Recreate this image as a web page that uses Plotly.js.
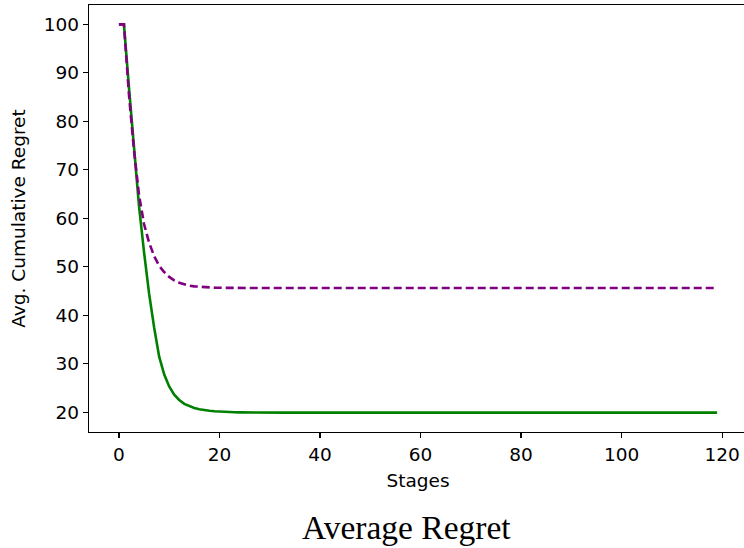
<!DOCTYPE html>
<html>
<head>
<meta charset="utf-8">
<script src="https://cdn.plot.ly/plotly-3.0.1.min.js"></script>
<style>html,body{margin:0;padding:0;background:#fff;overflow:hidden;}#chart{width:748px;height:548px;}</style>
</head>
<body>
<div id="chart"></div>
<script>
// Values (stages 0..119)
var greenHead = [100, 100, 87, 74, 62.5, 53, 44.5, 37.5, 31.5, 27.8, 25.3, 23.6, 22.5, 21.7, 21.2, 20.85, 20.6, 20.4, 20.27, 20.18, 20.1, 20.05, 20.0, 19.97, 19.95, 19.93, 19.92, 19.91, 19.9, 19.9];
var greenTailValue = 19.9;
var purpleHead = [100, 100, 85.5, 74, 64.8, 58.8, 55, 52.2, 50.2, 48.9, 47.9, 47.2, 46.7, 46.35, 46.1, 45.95, 45.85, 45.78, 45.72, 45.68, 45.65, 45.63, 45.62, 45.61, 45.6, 45.6];
var purpleTailValue = 45.6;
var nStages = 120;

var xTickVals = [0, 20, 40, 60, 80, 100, 120];
var yTickVals = [20, 30, 40, 50, 60, 70, 80, 90, 100];

var titleText = 'Average Regret';
var xLabel = 'Stages';
var yLabel = 'Avg. Cumulative Regret';

function fill(head, tail, n) {
  var out = head.slice();
  while (out.length < n) out.push(tail);
  return out;
}
var stages = [];
for (var i = 0; i < nStages; i++) stages.push(i);
var green = fill(greenHead, greenTailValue, nStages);
var purple = fill(purpleHead, purpleTailValue, nStages);

var tickFont = {family: 'DejaVu Sans', size: 18.5, color: '#000'};

var traces = [
  {x: stages, y: green, type: 'scatter', mode: 'lines', name: 'green',
   line: {color: '#008000', width: 2.6}, showlegend: false},
  {x: stages, y: purple, type: 'scatter', mode: 'lines', name: 'purple',
   line: {color: '#800080', width: 2.6, dash: '8px,4px'}, showlegend: false}
];

var layout = {
  width: 748, height: 548,
  margin: {l: 89, r: 1, t: 5, b: 116},
  paper_bgcolor: '#fff', plot_bgcolor: '#fff',
  xaxis: {
    range: [-5.95, 124.95], tickvals: xTickVals, ticks: 'outside', ticklen: 5, tickwidth: 1.2,
    tickcolor: '#000', showgrid: false, zeroline: false, showline: true, mirror: true,
    linecolor: '#000', linewidth: 1.3, tickfont: tickFont,
    title: {text: xLabel, font: tickFont, standoff: 10}
  },
  yaxis: {
    range: [15.9, 104.0], tickvals: yTickVals, ticks: 'outside', ticklen: 5, tickwidth: 1.2,
    tickcolor: '#000', showgrid: false, zeroline: false, showline: true, mirror: true,
    linecolor: '#000', linewidth: 1.3, tickfont: tickFont,
    title: {text: yLabel, font: tickFont, standoff: 13}
  },
  annotations: [{
    text: titleText, xref: 'paper', yref: 'paper', x: 0.4825, y: -0.2225,
    xanchor: 'center', yanchor: 'middle', showarrow: false,
    font: {family: 'Liberation Serif, DejaVu Serif, serif', size: 33.5, color: '#000'}
  }]
};

Plotly.newPlot('chart', traces, layout, {displayModeBar: false, staticPlot: true});
</script>
</body>
</html>
